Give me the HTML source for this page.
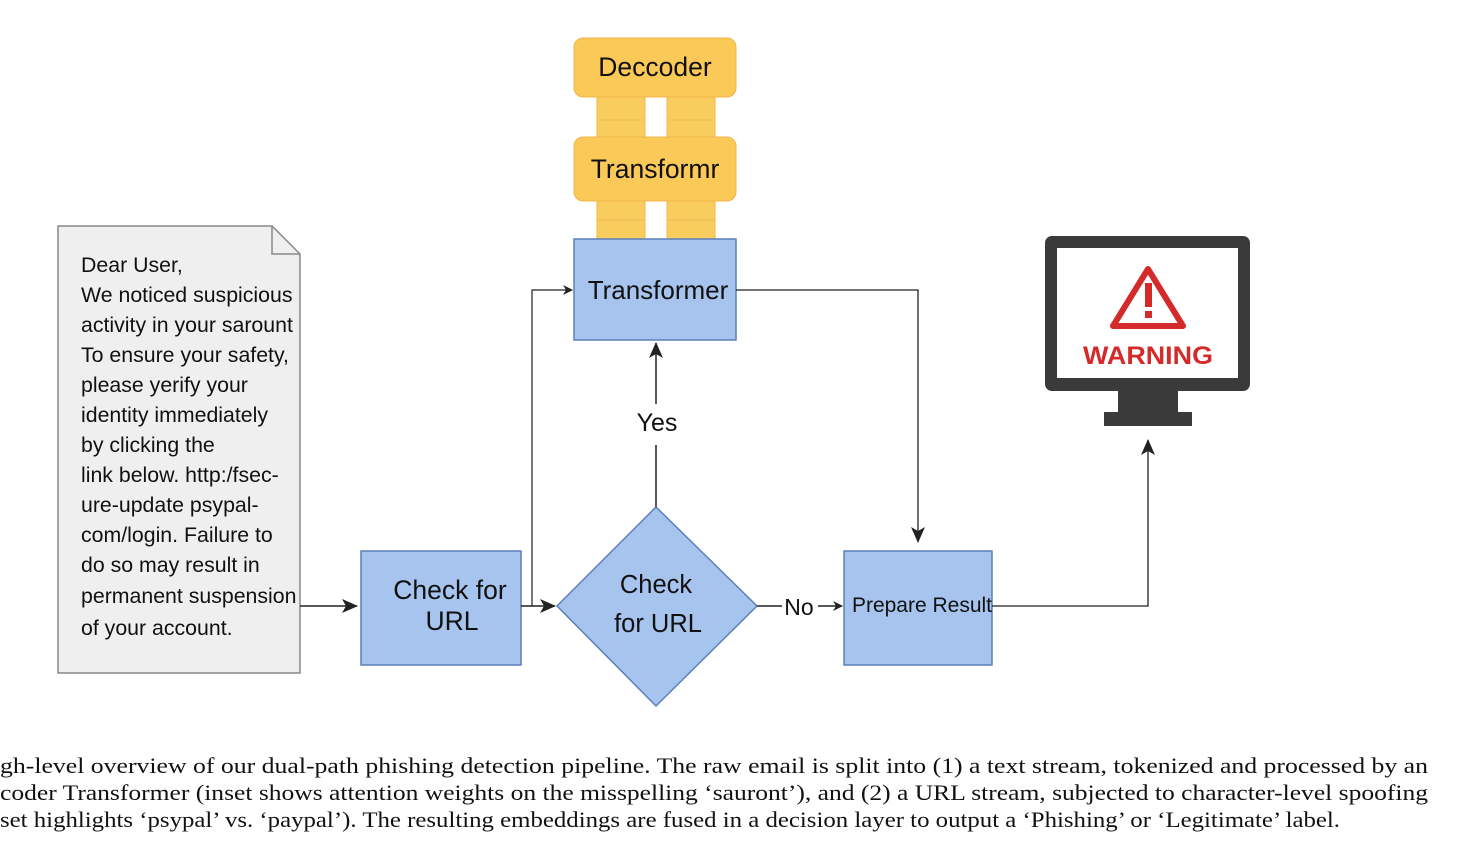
<!DOCTYPE html>
<html><head><meta charset="utf-8"><style>
html,body{margin:0;padding:0;background:#fff;width:1480px;height:865px;overflow:hidden}
svg{display:block}
.s{font-family:"Liberation Sans",Arial,sans-serif}
.c{font-family:"Liberation Serif","Times New Roman",serif;font-size:22px;fill:#111}
</style></head><body>
<svg width="1480" height="865" viewBox="0 0 1480 865">
<defs><marker id="a" markerWidth="10" markerHeight="10" refX="9" refY="5" orient="auto" markerUnits="userSpaceOnUse"><path d="M0,0 L10,5 L0,10 L3,5 Z" fill="#222"/></marker>
<marker id="b" markerWidth="16" markerHeight="14" refX="15" refY="7" orient="auto" markerUnits="userSpaceOnUse"><path d="M0,0 L16,7 L0,14 L4,7 Z" fill="#222"/></marker></defs>
<rect x="597" y="95" width="48" height="145" fill="#f9cc5e" stroke="#f1b84a"/>
<rect x="667" y="95" width="48" height="145" fill="#f9cc5e" stroke="#f1b84a"/>
<line x1="597" y1="120" x2="645" y2="120" stroke="#efbd55"/><line x1="667" y1="120" x2="715" y2="120" stroke="#efbd55"/>
<line x1="597" y1="220" x2="645" y2="220" stroke="#efbd55"/><line x1="667" y1="220" x2="715" y2="220" stroke="#efbd55"/>
<rect x="574" y="38" width="162" height="59" rx="9" fill="#fbc958" stroke="#f0b54a"/>
<text x="655" y="76" text-anchor="middle" class="s" font-size="26.5" fill="#111">Deccoder</text>
<rect x="574" y="137" width="162" height="64" rx="9" fill="#fbc958" stroke="#f0b54a"/>
<text x="655" y="178" text-anchor="middle" class="s" font-size="26.5" fill="#111">Transformr</text>
<rect x="574" y="239" width="162" height="101" fill="#a6c4ee" stroke="#5a80b8" stroke-width="1.5"/>
<text x="658" y="299" text-anchor="middle" class="s" font-size="26" fill="#111">Transformer</text>
<path d="M58,226 H272 L300,254 V673 H58 Z" fill="#efefef" stroke="#888" stroke-width="1.5"/>
<path d="M272,226 V254 H300" fill="none" stroke="#888" stroke-width="1.5"/>
<g class="s" font-size="21.3" fill="#111">
<text x="81" y="272">Dear User,</text>
<text x="81" y="302">We noticed suspicious</text>
<text x="81" y="332">activity in your sarount</text>
<text x="81" y="362">To ensure your safety,</text>
<text x="81" y="392">please yerify your</text>
<text x="81" y="422">identity immediately</text>
<text x="81" y="452">by clicking the</text>
<text x="81" y="482">link below. http:/fsec-</text>
<text x="81" y="512">ure-update psypal-</text>
<text x="81" y="542">com/login. Failure to</text>
<text x="81" y="572">do so may result in</text>
<text x="81" y="603">permanent suspension</text>
<text x="81" y="635">of your account.</text>
</g>
<rect x="361" y="551" width="160" height="114" fill="#a6c4ee" stroke="#5a80b8" stroke-width="1.5"/>
<text x="450" y="599" text-anchor="middle" class="s" font-size="26.5" fill="#111">Check for</text>
<text x="452" y="630" text-anchor="middle" class="s" font-size="26.5" fill="#111">URL</text>
<path d="M656,507 L757,606 L656,706 L557,606 Z" fill="#a6c4ee" stroke="#5a80b8" stroke-width="1.5"/>
<text x="656" y="593" text-anchor="middle" class="s" font-size="25.5" fill="#111">Check</text>
<text x="658" y="632" text-anchor="middle" class="s" font-size="25.5" fill="#111">for URL</text>
<rect x="844" y="551" width="148" height="114" fill="#a6c4ee" stroke="#5a80b8" stroke-width="1.5"/>
<text x="922" y="612" text-anchor="middle" class="s" font-size="21" fill="#111">Prepare Result</text>
<line x1="300" y1="606" x2="357" y2="606" stroke="#222" stroke-width="1.5" marker-end="url(#b)"/>
<line x1="521" y1="606" x2="555" y2="606" stroke="#222" stroke-width="1.5" marker-end="url(#b)"/>
<path d="M532,606 V290 H572" fill="none" stroke="#222" stroke-width="1.2" marker-end="url(#a)"/>
<line x1="656" y1="507" x2="656" y2="445" stroke="#222" stroke-width="1.5"/>
<text x="657" y="431" text-anchor="middle" class="s" font-size="25" fill="#111">Yes</text>
<line x1="656" y1="404" x2="656" y2="343" stroke="#222" stroke-width="1.5" marker-end="url(#b)"/>
<line x1="757" y1="606" x2="782" y2="606" stroke="#222" stroke-width="1.5"/>
<text x="799" y="615" text-anchor="middle" class="s" font-size="23" fill="#111">No</text>
<line x1="818" y1="606" x2="842" y2="606" stroke="#222" stroke-width="1.5" marker-end="url(#a)"/>
<path d="M736,290 H918 V542" fill="none" stroke="#222" stroke-width="1.3" marker-end="url(#b)"/>
<path d="M992,606 H1148 V440" fill="none" stroke="#222" stroke-width="1.3" marker-end="url(#b)"/>
<rect x="1045" y="236" width="205" height="155" rx="7" fill="#3a3a3a"/>
<rect x="1057" y="248" width="181" height="130" fill="#fff"/>
<rect x="1118" y="390" width="60" height="24" fill="#3a3a3a"/>
<rect x="1104" y="412" width="88" height="14" fill="#3a3a3a"/>
<path d="M1148,269 L1183,326 H1113 Z" fill="none" stroke="#d42a2a" stroke-width="6" stroke-linejoin="round"/>
<rect x="1145" y="283" width="7" height="24" fill="#d42a2a"/><rect x="1145" y="311" width="7" height="7" fill="#d42a2a"/>
<text x="1148" y="364" text-anchor="middle" class="s" font-size="25" font-weight="bold" fill="#d42a2a" textLength="130" lengthAdjust="spacingAndGlyphs">WARNING</text>
<text class="c" x="0" y="773" textLength="1428" lengthAdjust="spacingAndGlyphs">gh-level overview of our dual-path phishing detection pipeline. The raw email is split into (1) a text stream, tokenized and processed by an</text>
<text class="c" x="0" y="800" textLength="1428" lengthAdjust="spacingAndGlyphs">coder Transformer (inset shows attention weights on the misspelling ‘sauront’), and (2) a URL stream, subjected to character-level spoofing</text>
<text class="c" x="0" y="827" textLength="1340" lengthAdjust="spacingAndGlyphs">set highlights ‘psypal’ vs. ‘paypal’). The resulting embeddings are fused in a decision layer to output a ‘Phishing’ or ‘Legitimate’ label.</text>
</svg>
</body></html>
